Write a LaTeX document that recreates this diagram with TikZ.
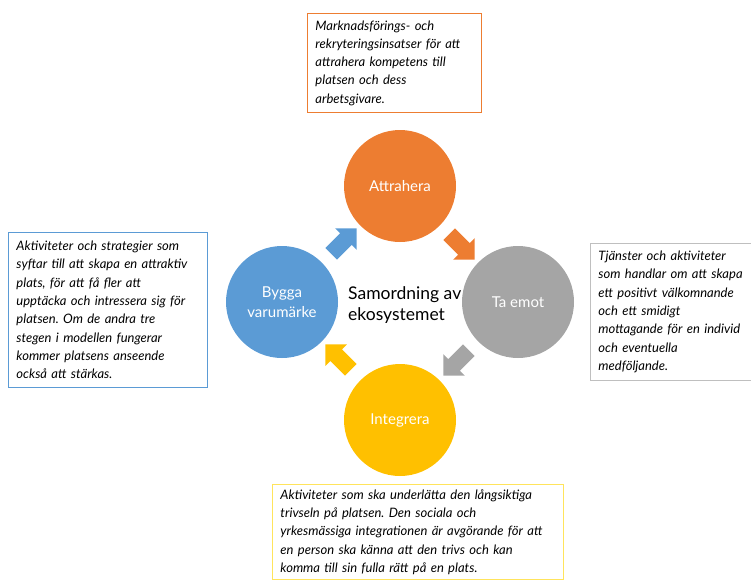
\documentclass[tikz,border=0pt]{standalone}
\usepackage{fontspec}
\setmainfont{Lato}
\frenchspacing
\usetikzlibrary{shapes.arrows}
\definecolor{attrorange}{HTML}{ED7D31}
\definecolor{emotgray}{HTML}{A5A5A5}
\definecolor{integyellow}{HTML}{FFC000}
\definecolor{byggblue}{HTML}{5B9BD5}
\definecolor{noteyellow}{HTML}{FFE45C}
\definecolor{notegray}{HTML}{BFBFBF}
\newcommand{\flowarrow}[4] % name, centre x/y in px, angle, colour
{
	% block arrow between two phases
	\node[flow, fill=#4, rotate=#3] (#1) at (#2) {};
}
\tikzset{
	phase/.style={circle, minimum size=112pt, inner sep=0pt, text=white, align=center, font=\fontsize{15}{20}\selectfont},
	flow/.style={single arrow, draw=none, inner xsep=0pt, inner ysep=8pt, single arrow head extend=7pt, minimum height=36pt},
	note/.style={line width=0.9pt, anchor=north west, align=left, inner xsep=8pt, inner ysep=7pt, font=\fontsize{13}{18.3}\selectfont\itshape}
}

\begin{document}
\begin{tikzpicture}[x=1pt, y=-1pt]
	% 751 x 579 px, y pointing down
	\useasboundingbox (0,0) rectangle (751,579);
	% four phases
	\node[phase, fill=attrorange] (attrahera) at (400,186) {Attrahera};
	\node[phase, fill=emotgray] (taemot) at (518,302) {Ta emot};
	\node[phase, fill=integyellow] (integrera) at (400,420) {Integrera};
	\node[phase, fill=byggblue] (bygga) at (282,302) {Bygga\\varumärke};
	% centre text
	\node[anchor=west, align=left, inner sep=0pt, font=\fontsize{17.5}{21}\selectfont] (core) at (348,305) {Samordning av\\ekosystemet};
	% arrows round the circle
	\flowarrow{toattr}{341,244}{45}{byggblue}
	\flowarrow{toemot}{459,244}{-45}{attrorange}
	\flowarrow{tointeg}{459,360}{-135}{emotgray}
	\flowarrow{tobygg}{341,360}{135}{integyellow}
	% descriptions
	\node[note, text width=158pt, minimum height=99pt, draw=attrorange] (attrnote) at (307,13)
		{Marknadsförings- och\\rekryteringsinsatser för att\\attrahera kompetens till\\platsen och dess\\arbetsgivare.};
	\node[note, text width=183pt, minimum height=155pt, draw=byggblue] (byggnote) at (8,232)
		{Aktiviteter och strategier som\\syftar till att skapa en attraktiv\\plats, för att få fler att\\upptäcka och intressera sig för\\platsen. Om de andra tre\\stegen i modellen fungerar\\kommer platsens anseende\\också att stärkas.};
	\node[note, text width=170pt, minimum height=137pt, draw=notegray] (emotnote) at (590,243)
		{Tjänster och aktiviteter\\som handlar om att skapa\\ett positivt välkomnande\\och ett smidigt\\mottagande för en individ\\och eventuella\\medföljande.};
	\node[note, text width=275pt, inner ysep=5pt, draw=noteyellow] (integnote) at (272,484)
		{Aktiviteter som ska underlätta den långsiktiga\\trivseln på platsen. Den sociala och\\yrkesmässiga integrationen är avgörande för att\\en person ska känna att den trivs och kan\\komma till sin fulla rätt på en plats.};
\end{tikzpicture}
\end{document}
